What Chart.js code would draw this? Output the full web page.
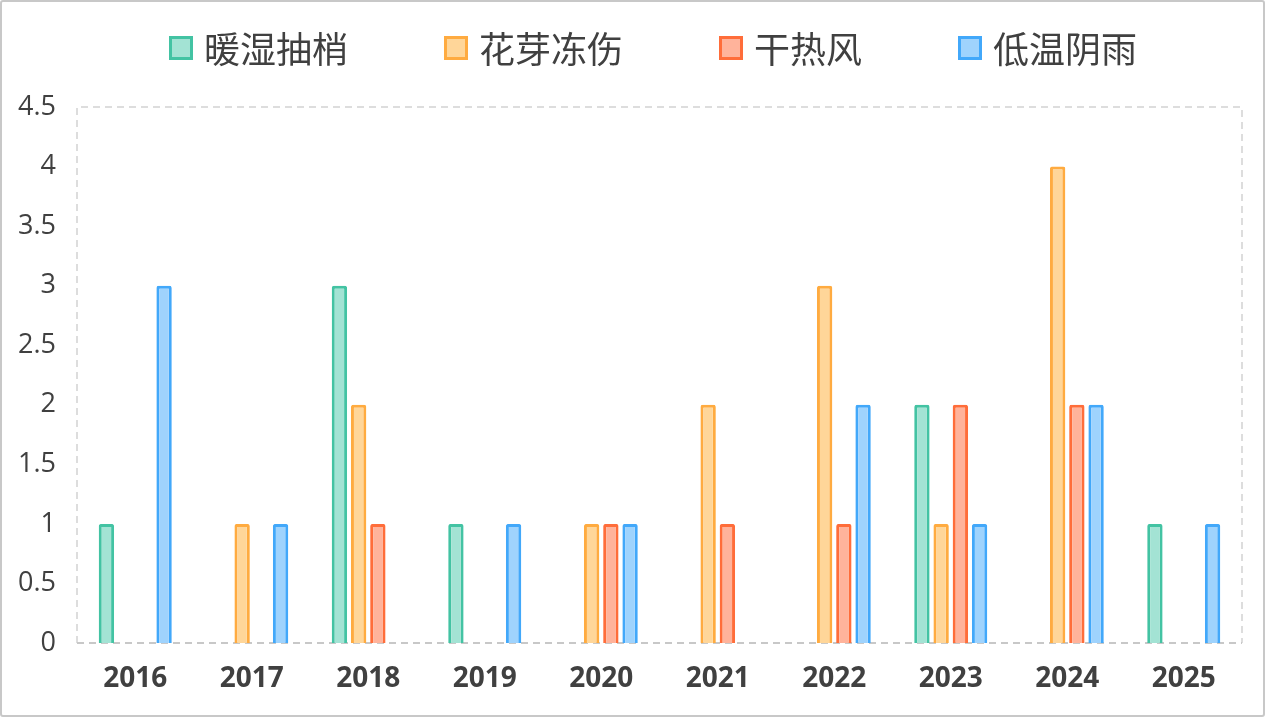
<!DOCTYPE html>
<html lang="zh">
<head>
<meta charset="UTF-8">
<title>灾害次数</title>
<script src="https://cdn.jsdelivr.net/npm/chart.js@4"></script>
<style>
    html, body { margin: 0; padding: 0; background: #fff; }
    #box {
        width: 1265px; height: 717px; box-sizing: border-box;
        border: 2px solid #c8c8c8; border-radius: 3px; position: relative;
    }
    #wrap { position: absolute; left: 0; top: 0; width: 1261px; height: 713px; }
</style>
</head>
<body>
<div id="box"><div id="wrap"><canvas id="chart"></canvas></div></div>
<script>
    // Daten
    const years = ['2016', '2017', '2018', '2019', '2020', '2021', '2022', '2023', '2024', '2025'];
    const seriesNames = ['暖湿抽梢', '花芽冻伤', '干热风', '低温阴雨'];
    const nuanshi = [1, 0, 3, 1, 0, 0, 0, 2, 0, 1];
    const huaya = [0, 1, 2, 0, 1, 2, 3, 1, 4, 0];
    const ganre = [0, 0, 1, 0, 1, 1, 1, 2, 2, 0];
    const diwen = [3, 1, 0, 1, 1, 0, 2, 1, 2, 1];
    const yTicks = [0, 0.5, 1, 1.5, 2, 2.5, 3, 3.5, 4, 4.5];

    const borders = ['#43c3a3', '#ffab40', '#ff6d3a', '#42a8fa'];
    const fills = ['#a3e3d4', '#ffd699', '#ffb39b', '#9fd3fd'];
    const textColor = '#404040';

    const values = [nuanshi, huaya, ganre, diwen];

    // gestrichelter Rahmen um die Zeichenfläche
    const frame = {
        id: 'frame',
        beforeDatasetsDraw(chart) {
            const { ctx, chartArea: a } = chart;
            ctx.save();
            ctx.lineWidth = 2;
            ctx.setLineDash([7, 5]);
            ctx.strokeStyle = '#dddddd';
            ctx.beginPath();
            ctx.moveTo(a.left, a.bottom);
            ctx.lineTo(a.left, a.top);
            ctx.lineTo(a.right, a.top);
            ctx.lineTo(a.right, a.bottom);
            ctx.stroke();
            ctx.strokeStyle = '#c8c8c8';
            ctx.beginPath();
            ctx.moveTo(a.left, a.bottom);
            ctx.lineTo(a.right, a.bottom);
            ctx.stroke();
            ctx.restore();
        }
    };

    // Legende oben, selbst gezeichnet (größere Abstände als Chart.js erlaubt)
    const topLegend = {
        id: 'topLegend',
        afterDraw(chart) {
            const { ctx } = chart;
            const box = 24, gapText = 11, gapItem = 96, cy = 46;
            ctx.save();
            ctx.font = '36px "Noto Sans CJK SC", sans-serif';
            ctx.textBaseline = 'middle';
            const items = chart.data.datasets.map(ds => ({
                ds, w: box + gapText + ctx.measureText(ds.label).width
            }));
            const total = items.reduce((s, it) => s + it.w, 0) + gapItem * (items.length - 1);
            let x = 651 - total / 2;
            items.forEach(it => {
                ctx.fillStyle = it.ds.backgroundColor;
                ctx.fillRect(x, cy - box / 2, box, box);
                ctx.lineWidth = 3;
                ctx.strokeStyle = it.ds.borderColor;
                ctx.strokeRect(x + 1.5, cy - box / 2 + 1.5, box - 3, box - 3);
                ctx.fillStyle = textColor;
                ctx.fillText(it.ds.label, x + box + gapText, cy + 1);
                x += it.w + gapItem;
            });
            ctx.restore();
        }
    };

    new Chart(document.getElementById('chart'), {
        type: 'bar',
        data: {
            labels: years,
            datasets: seriesNames.map((name, i) => ({
                label: name,
                data: values[i],
                backgroundColor: fills[i],
                borderColor: borders[i],
                borderWidth: 3,
                borderRadius: 2,
                borderSkipped: 'bottom',
                categoryPercentage: 0.66,
                barPercentage: 0.8
            }))
        },
        options: {
            responsive: true,
            maintainAspectRatio: false,
            animation: false,
            layout: { padding: { top: 105, right: 21, left: 0, bottom: 0 } },
            plugins: {
                legend: { display: false },
                tooltip: { enabled: false }
            },
            scales: {
                x: {
                    grid: { display: false, drawTicks: false },
                    border: { display: false },
                    ticks: {
                        color: textColor,
                        padding: 19,
                        font: { family: '"Open Sans", sans-serif', size: 28, weight: 'bold' }
                    },
                    afterFit(s) { s.height = 72; }
                },
                y: {
                    min: 0,
                    max: 4.5,
                    grid: { display: false, drawTicks: false },
                    border: { display: false },
                    afterBuildTicks(s) { s.ticks = yTicks.map(v => ({ value: v })); },
                    ticks: {
                        color: textColor,
                        padding: 21,
                        callback: v => String(v),
                        font: { family: '"Open Sans", sans-serif', size: 27 }
                    },
                    afterFit(s) { s.width = 75; }
                }
            }
        },
        plugins: [frame, topLegend]
    });
</script>
</body>
</html>
